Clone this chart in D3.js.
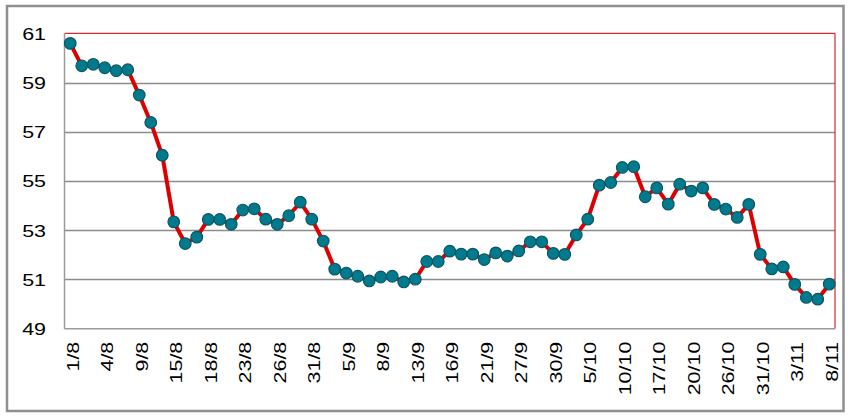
<!DOCTYPE html>
<html>
<head>
<meta charset="utf-8">
<script src="https://cdn.jsdelivr.net/npm/d3@7/dist/d3.min.js"></script>
<style>
  html, body { margin: 0; padding: 0; background: #fff; }
  svg { display: block; }
  text { font-family: "Liberation Sans", Arial, sans-serif; fill: #000; }
</style>
</head>
<body>
<svg id="chart" width="851" height="420"></svg>
<script>
// ---- data ----
const values = [
  60.59, 59.68, 59.74, 59.60, 59.48, 59.52, 58.49, 57.38, 56.05, 53.34,
  52.46, 52.72, 53.44, 53.44, 53.24, 53.82, 53.87, 53.45, 53.24, 53.59,
  54.14, 53.45, 52.56, 51.42, 51.26, 51.13, 50.94, 51.10, 51.13, 50.90,
  51.01, 51.73, 51.73, 52.15, 52.03, 52.03, 51.81, 52.08, 51.95, 52.16,
  52.53, 52.53, 52.06, 52.02, 52.81, 53.45, 54.83, 54.94, 55.55, 55.58,
  54.36, 54.72, 54.06, 54.87, 54.59, 54.72, 54.05, 53.86, 53.52, 54.05,
  52.02, 51.43, 51.51, 50.80, 50.27, 50.20, 50.81
];
const tickLabels = [
  "1/8", "4/8", "9/8", "15/8", "18/8", "23/8", "26/8", "31/8", "5/9", "8/9",
  "13/9", "16/9", "21/9", "27/9", "30/9", "5/10", "10/10", "17/10", "20/10",
  "26/10", "31/10", "3/11", "8/11"
];
const labelStep = 3;
const yTicks = [49, 51, 53, 55, 57, 59, 61];

// ---- layout ----
const svg = d3.select("#chart");
const L = 64.5, R = 835, T = 33.3, B = 328.7;

svg.append("rect")
  .attr("x", 7).attr("y", 6).attr("width", 836.5).attr("height", 405)
  .attr("fill", "#fff").attr("stroke", "#8f8f8f").attr("stroke-width", 2.5);

const idx = d3.range(values.length);
const x = d3.scalePoint().domain(idx).range([L, R]).padding(0.5);
const y = d3.scaleLinear().domain([49, 61]).range([B, T]);

// grid lines
svg.append("g").selectAll("line")
  .data(yTicks.filter(v => v > 49 && v < 61))
  .join("line")
  .attr("x1", L).attr("x2", R)
  .attr("y1", d => Math.round(y(d)) + 0.5).attr("y2", d => Math.round(y(d)) + 0.5)
  .attr("stroke", "#8c8c8c").attr("stroke-width", 1.4);

// plot frame: top & right red, left & bottom gray
svg.append("line").attr("x1", L).attr("x2", R).attr("y1", y(61)).attr("y2", y(61))
  .attr("stroke", "#d42a2a").attr("stroke-width", 1.2);
svg.append("line").attr("x1", R).attr("x2", R).attr("y1", y(61)).attr("y2", y(49))
  .attr("stroke", "#d42a2a").attr("stroke-width", 1.2);
svg.append("line").attr("x1", L).attr("x2", R).attr("y1", y(49)).attr("y2", y(49))
  .attr("stroke", "#9a9a9a").attr("stroke-width", 1.5);
svg.append("line").attr("x1", L).attr("x2", L).attr("y1", y(61)).attr("y2", y(49))
  .attr("stroke", "#9a9a9a").attr("stroke-width", 1.5);

// y axis labels
const yAxis = d3.axisLeft(y).tickValues(yTicks).tickSize(0).tickPadding(0);
const gy = svg.append("g").attr("transform", `translate(46,0)`).call(yAxis)
  .attr("font-size", null).attr("font-family", null);
gy.select(".domain").remove();
gy.selectAll(".tick text")
  .attr("x", 0).attr("dy", "0.36em")
  .attr("transform", "scale(1.3,1)")
  .attr("font-size", 16.5)
  .attr("fill", "#000");

// x axis labels
const xAxis = d3.axisBottom(x)
  .tickValues(idx.filter(i => i % labelStep === 0))
  .tickFormat(i => tickLabels[i / labelStep])
  .tickSize(0);
const gx = svg.append("g").attr("transform", `translate(2,${B})`).call(xAxis)
  .attr("font-size", null).attr("font-family", null);
gx.select(".domain").remove();
gx.selectAll(".tick text")
  .attr("x", 0).attr("y", 0).attr("dy", "0.36em")
  .attr("text-anchor", "end")
  .attr("transform", "translate(0,13) rotate(-90) scale(1.3,1)")
  .attr("font-size", 16.5)
  .attr("fill", "#000");

// line
const line = d3.line().x((d, i) => x(i)).y(d => y(d));
svg.append("path").datum(values)
  .attr("d", line).attr("fill", "none")
  .attr("stroke", "#dd0000").attr("stroke-width", 4)
  .attr("stroke-linejoin", "round");

// markers
svg.append("g").selectAll("circle")
  .data(values).join("circle")
  .attr("cx", (d, i) => x(i)).attr("cy", d => y(d))
  .attr("r", 5.8)
  .attr("fill", "#007a8c").attr("stroke", "#0b5865").attr("stroke-width", 1.2);
</script>
</body>
</html>
